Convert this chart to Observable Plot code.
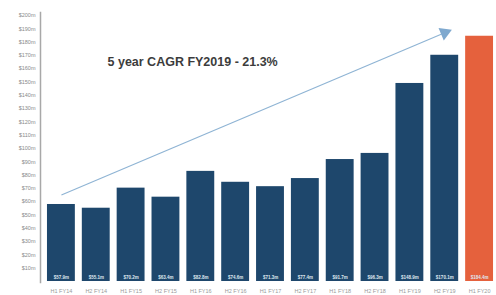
<!DOCTYPE html>
<html>
<head>
<meta charset="utf-8">
<script src="https://cdn.jsdelivr.net/npm/d3@7"></script>
<script src="https://cdn.jsdelivr.net/npm/@observablehq/plot@0.6"></script>
<style>
  html, body { margin: 0; padding: 0; background: #fff; }
  #chart svg { display: block; }
</style>
</head>
<body>
<div id="chart"></div>
<script>
const periods = ["H1 FY14","H2 FY14","H1 FY15","H2 FY15","H1 FY16","H2 FY16","H1 FY17","H2 FY17","H1 FY18","H2 FY18","H1 FY19","H2 FY19","H1 FY20"];
const revenue = [57.9, 55.1, 70.2, 63.4, 82.8, 74.6, 71.3, 77.4, 91.7, 96.3, 148.9, 170.1, 184.4];
const highlight = [false,false,false,false,false,false,false,false,false,false,false,false,true];
const yTicks = d3.range(10, 201, 10);
const title = "5 year CAGR FY2019 - 21.3%";
const arrowFrom = [periods[0], 65];
const arrowTo = [periods[11], 187];

const data = periods.map((p, i) => ({period: p, value: revenue[i], hi: highlight[i]}));
const arrowData = [{x1: arrowFrom[0], y1: arrowFrom[1], x2: arrowTo[0], y2: arrowTo[1]}];

const blue = "#1e476c";
const orange = "#e5613d";

const chart = Plot.plot({
  width: 496,
  height: 295,
  marginTop: 12,
  marginBottom: 13,
  marginLeft: 40,
  marginRight: 0,
  style: {fontFamily: "Liberation Sans, Arial, sans-serif", background: "#fff"},
  x: {domain: periods, range: [40, 500], paddingInner: 0.2, paddingOuter: 0.2, round: false},
  y: {domain: [0, 200], range: [281, 15]},
  marks: [
    Plot.barY(data, {x: "period", y: "value", fill: d => d.hi ? orange : blue}),
    Plot.text(data, {x: "period", y: 0, text: d => `$${d.value.toFixed(1)}m`, dy: -4, fill: "#dfe7ef", fontSize: 4.5, fontWeight: "bold"}),
    Plot.axisY({ticks: yTicks, tickSize: 0, tickPadding: 5, tickFormat: d => `$${d}m`, fontSize: 5.5, fill: "#8a8a8a"}),
    Plot.axisX({tickSize: 0, tickPadding: 7, fontSize: 5.5, fill: "#9a9a9a"}),
    Plot.frame({anchor: "left", stroke: "#a8a8a8", strokeWidth: 1.5}),
    Plot.link(arrowData, {x1: "x1", y1: "y1", x2: "x2", y2: "y2", stroke: "#8fb4d4", strokeWidth: 1.2}),
    Plot.dot(arrowData, {x: "x2", y: "y2", symbol: "triangle", r: 5, fill: "#7fa9cf", stroke: "none", rotate: 67}),
    Plot.text([title], {frameAnchor: "top-left", dx: 67, dy: 45, textAnchor: "start", fontSize: 12.5, fontWeight: "bold", fill: "#3c3c3c"})
  ]
});
document.getElementById("chart").appendChild(chart);
</script>
</body>
</html>
